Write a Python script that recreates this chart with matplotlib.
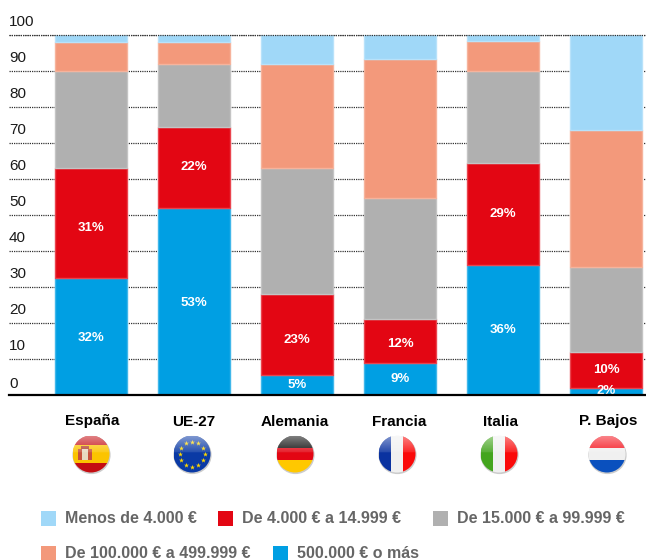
import numpy as np
import matplotlib
matplotlib.use("Agg")
import matplotlib.pyplot as plt
from matplotlib.patches import Circle, Rectangle
from matplotlib.colors import to_rgb

plt.rcParams["font.family"] = ["Liberation Sans", "DejaVu Sans"]

countries = ["España", "UE-27", "Alemania", "Francia", "Italia", "P. Bajos"]

# from the bottom of the stack to the top
over_500k = [32.5, 52, 5.5, 9, 36, 2]
band_4k = [30.5, 22.4, 22.5, 12, 28.5, 10]
band_15k = [27, 17.6, 35, 33.7, 25.5, 23.5]
band_100k = [8, 6, 29, 38.6, 8.3, 38.1]
under_4k = [2, 2, 8, 6.7, 1.7, 26.4]

labels_500k = ["32%", "53%", "5%", "9%", "36%", "2%"]
labels_4k = ["31%", "22%", "23%", "12%", "29%", "10%"]

y_ticks = [0, 10, 20, 30, 40, 50, 60, 70, 80, 90, 100]

LIGHT = "#A0D8F8"
RED = "#E30613"
GREY = "#B0B0B0"
SALMON = "#F3997B"
BLUE = "#009FE3"


def lighter(color, amount=0.25):
    c = np.array(to_rgb(color))
    return tuple(c + (1 - c) * amount)


fig = plt.figure(figsize=(6.46, 5.60), dpi=100)

# chart area, 9-646 px across and 35-395 px down
ax = fig.add_axes([9 / 646, 1 - 395 / 560, 637 / 646, 360 / 560])
x = np.arange(len(countries))
ax.set_xlim((9 - 91) / 103, (646 - 91) / 103)
ax.set_ylim(0, 100)

for t in y_ticks[1:]:
    ax.axhline(t, color="#333333", lw=0.9, ls=(0, (1, 0.8)), zorder=1)

bottom = np.zeros(len(countries))
containers = []
for values, color in [(over_500k, BLUE), (band_4k, RED), (band_15k, GREY),
                      (band_100k, SALMON), (under_4k, LIGHT)]:
    bars = ax.bar(x, values, 0.69, bottom=bottom, color=color,
                  edgecolor=lighter(color), linewidth=1.0, zorder=2)
    containers.append(bars)
    bottom = bottom + np.array(values)

ax.axhline(100, color="#333333", lw=0.9, ls=(0, (1, 0.8)), zorder=3, clip_on=False)

texts_500k = ax.bar_label(containers[0], labels=labels_500k, label_type="center", color="white",
                          fontsize=9.5, fontweight="bold", clip_on=True, zorder=5)
texts_4k = ax.bar_label(containers[1], labels=labels_4k, label_type="center", color="white",
                        fontsize=9.5, fontweight="bold", zorder=5)

# a few labels sit off centre in the original, offsets in points
for txt in list(texts_500k) + list(texts_4k):
    nudge = {"31%": -3.5, "23%": -3.5, "12%": -2, "32%": -1, "53%": -1}.get(txt.get_text(), 0)
    txt.xyann = (txt.xyann[0], txt.xyann[1] + nudge)

ax.set_xticks([])
ax.set_yticks([])
for side in ["top", "left", "right"]:
    ax.spines[side].set_visible(False)
ax.spines["bottom"].set_linewidth(1.6)
ax.spines["bottom"].set_color("black")
ax.spines["bottom"].set_zorder(6)
ax.patch.set_alpha(0)

# overlay in pixel coordinates for tick text, flags and legend
ov = fig.add_axes([0, 0, 1, 1], zorder=5)
ov.axis("off")
ov.patch.set_alpha(0)

for t in y_ticks:
    ypx = 395 - t * 3.6
    ov.text(9, ypx - (11 if t == 0 else 13.5), str(t), fontsize=11, color="#1a1a1a",
            ha="left", va="center")

label_px = [92, 193.5, 295, 399, 501, 608]
flag_px = [91, 192, 295, 397, 499, 607]
for name, px in zip(countries, label_px):
    ov.text(px, 421.5, name, fontsize=11, fontweight="bold", color="black",
            ha="center", va="center")


def flag(cx, stripes, vertical=False, cy=454, r=18.5):
    # soft shadow under the disc
    ov.add_patch(Circle((cx + 0.5, cy + 1), r + 0.6, fc="#aaaaaa", ec="none", alpha=0.6))
    clip = Circle((cx, cy), r, transform=ov.transData, fc="none", ec="none")
    ov.add_patch(clip)
    pos = -r
    for frac, col in stripes:
        size = frac * 2 * r
        if vertical:
            rect = Rectangle((cx + pos, cy - r), size, 2 * r, fc=col, ec="none")
        else:
            rect = Rectangle((cx - r, cy + pos), 2 * r, size, fc=col, ec="none")
        ov.add_patch(rect)
        rect.set_clip_path(clip)
        pos += size
    return clip


def gloss(cx, clip, cy=454, r=18.5):
    grad = np.zeros((64, 2, 4))
    grad[..., :3] = 1
    grad[:, :, 3] = np.concatenate([np.linspace(0.5, 0.12, 30), np.zeros(34)])[:, None]
    im = ov.imshow(grad, extent=(cx - r, cx + r, cy + r, cy - r), zorder=4,
                   aspect="auto", interpolation="bilinear")
    im.set_clip_path(clip)


flag_specs = [
    ([(0.25, "#C40D12"), (0.5, "#FBC400"), (0.25, "#C40D12")], False),
    ([(1, "#0A3AA5")], False),
    ([(1 / 3, "#0A0A0A"), (1 / 3, "#E30613"), (1 / 3, "#FFC800")], False),
    ([(1 / 3, "#0A32A0"), (1 / 3, "#F0F0F0"), (1 / 3, "#FA0A0A")], True),
    ([(1 / 3, "#44A51E"), (1 / 3, "#F0F0F0"), (1 / 3, "#FA0A0A")], True),
    ([(1 / 3, "#F5141E"), (1 / 3, "#F0F0F0"), (1 / 3, "#0A50BE")], False),
]
for px, (stripes, vert) in zip(flag_px, flag_specs):
    clip = flag(px, stripes, vert)
    if px == flag_px[0]:
        # small coat of arms
        ov.add_patch(Rectangle((px - 13, 449), 14, 11, fc="#C8503C", ec="none", zorder=3))
        ov.add_patch(Rectangle((px - 9, 449), 6, 11, fc="#E8D8C0", ec="none", zorder=3))
        ov.add_patch(Rectangle((px - 10, 446), 8, 3, fc="#B04030", ec="none", zorder=3))
    if px == flag_px[1]:
        ang = np.deg2rad(np.arange(0, 360, 30))
        ov.scatter(px + 12.5 * np.cos(ang), 454 + 12.5 * np.sin(ang), marker="*",
                   s=14, c="#FFD800", linewidths=0, zorder=3)
    gloss(px, clip)

legend_items = [
    (41, 518, LIGHT, "Menos de 4.000 €"),
    (218, 518, RED, "De 4.000 € a 14.999 €"),
    (433, 518, GREY, "De 15.000 € a 99.999 €"),
    (41, 553, SALMON, "De 100.000 € a 499.999 €"),
    (273, 553, BLUE, "500.000 € o más"),
]
for lx, ly, col, txt in legend_items:
    ov.add_patch(Rectangle((lx, ly - 7.5), 15, 15, fc=col, ec="none"))
    ov.text(lx + 24, ly + 0.5, txt, fontsize=11.5, fontweight="bold", color="#666666",
            ha="left", va="center")

# imshow resets the limits, so these go last
ov.set_xlim(0, 646)
ov.set_ylim(560, 0)
ov.set_aspect("auto")

fig.savefig("out.png", dpi=100)
